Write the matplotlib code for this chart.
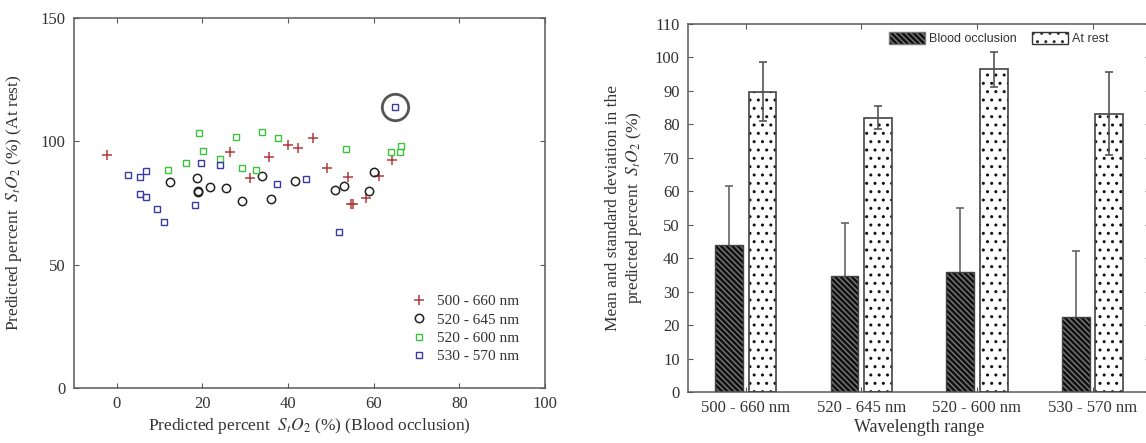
"""
Scatter of predicted StO2 (rest vs occlusion) and bar chart of mean/SD per wavelength range.
"""
import numpy as np
import matplotlib
matplotlib.use('Agg')
import matplotlib.pyplot as plt
from matplotlib.patches import Patch

plt.rcParams['font.family'] = 'Liberation Serif'
plt.rcParams['mathtext.fontset'] = 'stix'
plt.rcParams['hatch.linewidth'] = 1.0

# scatter data: (blood occlusion, at rest) per wavelength range
ranges = ['500 - 660 nm', '520 - 645 nm', '520 - 600 nm', '530 - 570 nm']

r500_x = [-2.3, 26.5, 31.2, 35.5, 40.0, 42.4, 45.7, 49.1, 54.0, 54.6, 55.1, 58.3, 61.2, 64.2]
r500_y = [94.5, 95.8, 85.1, 93.5, 98.4, 97.3, 101.2, 89.2, 85.5, 74.7, 74.7, 76.9, 86.1, 92.6]

r520_645_x = [12.5, 18.8, 18.9, 19.0, 21.7, 25.6, 29.3, 33.8, 35.9, 41.7, 51.0, 53.1, 60.1, 58.9]
r520_645_y = [83.4, 85.0, 79.7, 79.4, 81.6, 81.2, 75.8, 86.1, 76.8, 83.8, 80.1, 82.0, 87.6, 80.0]

r520_600_x = [12.0, 16.2, 19.2, 20.2, 24.2, 27.9, 29.2, 32.6, 33.9, 37.7, 53.4, 64.0, 66.1, 66.3]
r520_600_y = [88.4, 91.4, 103.2, 95.9, 92.8, 101.6, 89.3, 88.5, 103.6, 101.4, 96.9, 95.5, 95.7, 98.2]

r530_x = [2.5, 5.3, 6.7, 5.3, 6.9, 9.4, 11.0, 18.3, 19.7, 24.2, 37.3, 44.2, 51.9, 64.9]
r530_y = [86.5, 85.5, 88.1, 78.5, 77.6, 72.7, 67.3, 74.1, 91.4, 90.5, 82.6, 84.7, 63.4, 114.1]

# bar data: mean and standard deviation
occlusion_mean = [43.8, 34.8, 36.0, 22.3]
occlusion_sd = [17.7, 15.7, 19.1, 19.9]
rest_mean = [89.8, 82.0, 96.5, 83.2]
rest_sd = [8.9, 3.5, 5.2, 12.4]

TXT = '#333333'
SPINE = '#5a5a5a'
DARK_HATCH = '\\\\\\\\\\\\'
DARK_STRIPE = '#7a7a7a'


def style_axis(ax):
    for s in ax.spines.values():
        s.set_color(SPINE)
        s.set_linewidth(1.1)
    ax.tick_params(direction='in', top=True, right=True, length=3.5,
                   color=SPINE, labelsize=12, labelcolor=TXT, pad=6)


fig = plt.figure(figsize=(11.46, 4.43), dpi=100)

# ---- left: scatter ----
ax1 = fig.add_axes([0.0646, 0.1242, 0.411, 0.835])
ax1.plot(r500_x, r500_y, '+', color='#b23a3a', ms=7, mew=1.1,
         linestyle='none', label=ranges[0])
ax1.plot(r520_645_x, r520_645_y, 'o', mfc='none', mec='#222222', ms=6,
         mew=1.1, linestyle='none', label=ranges[1])
ax1.plot(r520_600_x, r520_600_y, 's', mfc='none', mec='#3cc23c', ms=5,
         mew=1.0, linestyle='none', label=ranges[2])
ax1.plot(r530_x, r530_y, 's', mfc='none', mec='#3a3a9e', ms=5,
         mew=1.0, linestyle='none', label=ranges[3])
# highlighted outlier
ax1.plot(r530_x[-1], r530_y[-1], 'o', mfc='none', mec='#555555', ms=19,
         mew=2.0)
ax1.set_xlim(-10, 100)
ax1.set_ylim(0, 150)
ax1.set_xticks([0, 20, 40, 60, 80, 100])
ax1.set_yticks([0, 50, 100, 150])
style_axis(ax1)
ax1.set_xlabel(r'Predicted percent  $S_tO_2$ (%) (Blood occlusion)',
               fontsize=12.5, color=TXT, labelpad=3)
ax1.set_ylabel(r'Predicted percent  $S_tO_2$ (%) (At rest)',
               fontsize=12.5, color=TXT, labelpad=12)
ax1.legend(loc='lower right', bbox_to_anchor=(0.975, 0.03), frameon=False,
           fontsize=11, labelspacing=0.3, handletextpad=0.6,
           handlelength=1.2, labelcolor=TXT)

# ---- right: bars ----
ax2 = fig.add_axes([0.6003, 0.1151, 0.4035, 0.8307])
x = np.arange(1, len(ranges) + 1)
w = 0.24
off = 0.145
# error bars first so the dark bar hides most of its lower half
ax2.errorbar(x - off, occlusion_mean, yerr=occlusion_sd, fmt='none',
             ecolor='#666666', elinewidth=1.2, capsize=3, capthick=1.2,
             zorder=1)
ax2.bar(x - off, occlusion_mean, w, color='#111111', edgecolor=DARK_STRIPE,
        hatch=DARK_HATCH, linewidth=0, zorder=2)
ax2.bar(x - off, occlusion_mean, w, fill=False, edgecolor='#444444',
        linewidth=1.0, zorder=3)
ax2.bar(x + off, rest_mean, w, color='white', edgecolor='#111111',
        hatch='..', linewidth=0, zorder=2)
ax2.bar(x + off, rest_mean, w, fill=False, edgecolor='#444444',
        linewidth=1.2, zorder=3)
ax2.errorbar(x + off, rest_mean, yerr=rest_sd, fmt='none',
             ecolor='#555555', elinewidth=1.2, capsize=3, capthick=1.2,
             zorder=4)
ax2.set_xlim(0.5, 4.5)
ax2.set_ylim(0, 110)
ax2.set_xticks(x)
ax2.set_xticklabels(ranges)
ax2.set_yticks(np.arange(0, 111, 10))
style_axis(ax2)
ax2.set_xlabel('Wavelength range', fontsize=13, color=TXT, labelpad=2)
ax2.set_ylabel('Mean and standard deviation in the\n'
               r'predicted percent  $S_tO_2$ (%)',
               fontsize=12.5, color=TXT, labelpad=8)
handles = [
    Patch(facecolor='#111111', edgecolor=DARK_STRIPE, hatch=DARK_HATCH,
          label='Blood occlusion'),
    Patch(facecolor='white', edgecolor='#333333', hatch='..',
          label='At rest'),
]
ax2.legend(handles=handles, loc='upper left', bbox_to_anchor=(0.41, 1.01),
           ncol=2, frameon=False, handlelength=2.9, handleheight=1.2,
           handletextpad=0.3, columnspacing=1.2,
           prop={'family': 'Liberation Sans', 'size': 9}, labelcolor=TXT)

fig.savefig('out.png', dpi=100)
